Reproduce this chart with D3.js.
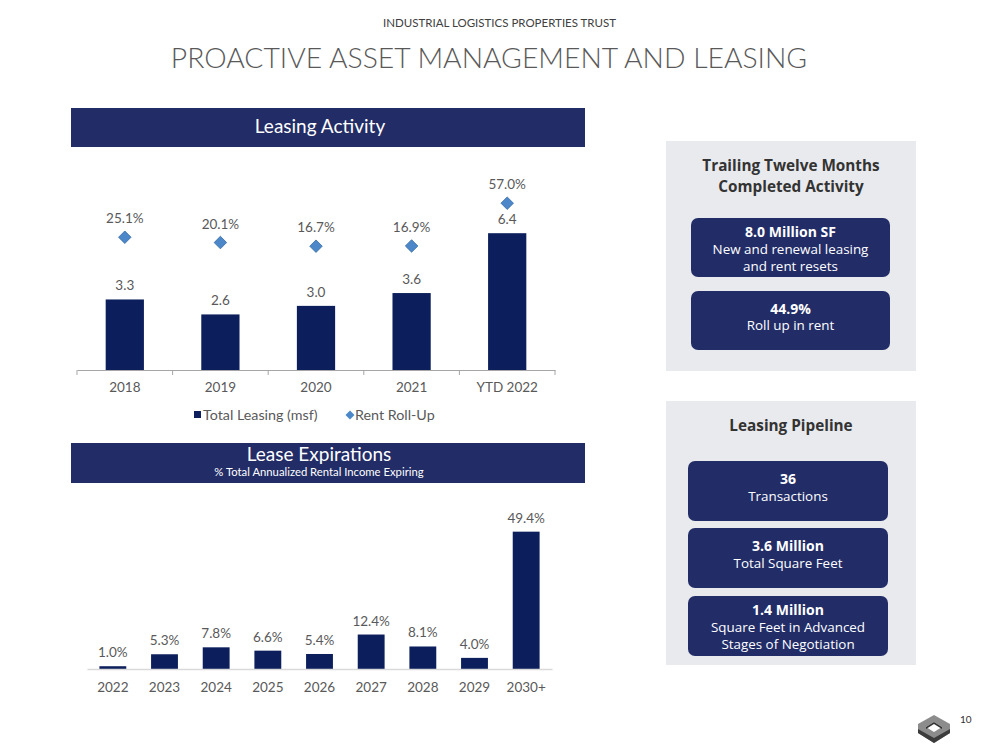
<!DOCTYPE html>
<html><head><meta charset="utf-8">
<script src="https://cdn.jsdelivr.net/npm/d3@7"></script>
<style>body{margin:0;background:#fff}svg{display:block;font-family:Lato,"Open Sans",sans-serif}</style>
</head><body><svg id="c" width="999" height="750"></svg>
<script>
// ---- data ----
const leasingYears = ["2018","2019","2020","2021","YTD 2022"];
const totalLeasing = [3.3,2.6,3.0,3.6,6.4];
const rentRollUp = [25.1,20.1,16.7,16.9,57.0];
const expYears = ["2022","2023","2024","2025","2026","2027","2028","2029","2030+"];
const expPct = [1.0,5.3,7.8,6.6,5.4,12.4,8.1,4.0,49.4];
const ttmTitle = ["Trailing Twelve Months","Completed Activity"];
const ttmBoxes = [
  {head:"8.0 Million SF", lines:["New and renewal leasing","and rent resets"]},
  {head:"44.9%", lines:["Roll up in rent"]}
];
const pipeTitle = ["Leasing Pipeline"];
const pipeBoxes = [
  {head:"36", lines:["Transactions"]},
  {head:"3.6 Million", lines:["Total Square Feet"]},
  {head:"1.4 Million", lines:["Square Feet in Advanced","Stages of Negotiation"]}
];

const NAVY_HDR="#222c66", BAR="#0c1f5c", GRAY="#595959";
const PF="'Open Sans','Noto Sans',sans-serif";
const svg=d3.select("#c");
svg.append("rect").attr("width",999).attr("height",750).attr("fill","#fff");

// Page header
svg.append("text").attr("x",499.5).attr("y",27).attr("text-anchor","middle")
  .attr("font-size",11.5).attr("fill","#404040")
  .text("INDUSTRIAL LOGISTICS PROPERTIES TRUST");
svg.append("text").attr("x",489).attr("y",68).attr("text-anchor","middle")
  .attr("font-size",28.3).attr("font-weight",300).attr("fill",GRAY)
  .text("PROACTIVE ASSET MANAGEMENT AND LEASING");

// ---- Leasing Activity ----
svg.append("rect").attr("x",71).attr("y",108).attr("width",514).attr("height",39).attr("fill",NAVY_HDR);
svg.append("text").attr("x",320).attr("y",133).attr("text-anchor","middle").attr("font-size",19).attr("fill","#fff").text("Leasing Activity");

const x1=d3.scaleBand().domain(leasingYears).range([77,555]).paddingInner(0.6).paddingOuter(0.3);
const y1=d3.scaleLinear().domain([0,8]).range([370,199]);
const y2=d3.scaleLinear().domain([0,60]).range([264,200]);
const g1=svg.append("g");
g1.selectAll("rect.b").data(totalLeasing).join("rect").attr("class","b")
  .attr("x",(d,i)=>x1(leasingYears[i])).attr("width",x1.bandwidth())
  .attr("y",d=>y1(d)).attr("height",d=>y1(0)-y1(d)).attr("fill",BAR);
g1.selectAll("text.bl").data(totalLeasing).join("text").attr("class","bl")
  .attr("x",(d,i)=>x1(leasingYears[i])+x1.bandwidth()/2).attr("y",d=>y1(d)-9)
  .attr("text-anchor","middle").attr("font-size",13.5).attr("fill",GRAY).text(d=>d.toFixed(1));
const dia=d3.symbol().type(d3.symbolSquare).size(78);
g1.selectAll("path.d").data(rentRollUp).join("path").attr("class","d")
  .attr("d",dia).attr("transform",(d,i)=>`translate(${x1(leasingYears[i])+x1.bandwidth()/2},${y2(d)}) rotate(45)`)
  .attr("fill","#4b87c9").attr("stroke","#3a6fa8").attr("stroke-width",0.8);
g1.selectAll("text.dl").data(rentRollUp).join("text").attr("class","dl")
  .attr("x",(d,i)=>x1(leasingYears[i])+x1.bandwidth()/2).attr("y",d=>y2(d)-14)
  .attr("text-anchor","middle").attr("font-size",13.5).attr("fill",GRAY).text(d=>d.toFixed(1)+"%");
// axis
const ax1=svg.append("g").attr("transform","translate(0,370)").call(d3.axisBottom(x1).tickSize(0).tickPadding(12));
ax1.attr("font-family",null).attr("font-size",null);
ax1.select(".domain").attr("stroke","#a6a6a6");
ax1.selectAll("text").attr("font-size",13.5).attr("fill",GRAY);
const bounds=[x1.range()[0]].concat(leasingYears.map(d=>x1(d)+x1.bandwidth()/2+x1.step()/2));
svg.selectAll("line.tk").data(bounds).join("line").attr("class","tk")
  .attr("x1",d=>d).attr("x2",d=>d).attr("y1",370).attr("y2",375).attr("stroke","#a6a6a6");
// legend
svg.append("rect").attr("x",194).attr("y",411).attr("width",7).attr("height",7).attr("fill",BAR);
svg.append("text").attr("x",203).attr("y",420).attr("font-size",14.3).attr("fill",GRAY).text("Total Leasing (msf)");
svg.append("path").attr("d",d3.symbol().type(d3.symbolSquare).size(40)).attr("transform","translate(350,415) rotate(45)").attr("fill","#4b87c9");
svg.append("text").attr("x",355).attr("y",420).attr("font-size",14.3).attr("fill",GRAY).text("Rent Roll-Up");

// ---- Lease Expirations ----
svg.append("rect").attr("x",71).attr("y",443).attr("width",514).attr("height",40).attr("fill",NAVY_HDR);
svg.append("text").attr("x",319).attr("y",461).attr("text-anchor","middle").attr("font-size",19).attr("fill","#fff").text("Lease Expirations");
svg.append("text").attr("x",319).attr("y",476).attr("text-anchor","middle").attr("font-size",11.3).attr("fill","#fff").text("% Total Annualized Rental Income Expiring");

const x2=d3.scaleBand().domain(expYears).range([87,552]).paddingInner(0.48).paddingOuter(0.24);
const y3=d3.scaleLinear().domain([0,50]).range([669,530]);
svg.selectAll("rect.e").data(expPct).join("rect").attr("class","e")
  .attr("x",(d,i)=>x2(expYears[i])).attr("width",x2.bandwidth())
  .attr("y",d=>y3(d)).attr("height",d=>y3(0)-y3(d)).attr("fill",BAR);
svg.selectAll("text.el").data(expPct).join("text").attr("class","el")
  .attr("x",(d,i)=>x2(expYears[i])+x2.bandwidth()/2).attr("y",d=>y3(d)-9)
  .attr("text-anchor","middle").attr("font-size",13.5).attr("fill",GRAY).text(d=>d.toFixed(1)+"%");
const ax2=svg.append("g").attr("transform","translate(0,669)").call(d3.axisBottom(x2).tickSize(0).tickPadding(13));
ax2.attr("font-family",null).attr("font-size",null);
ax2.select(".domain").attr("stroke","#d9d9d9").attr("stroke-width",1.5);
ax2.selectAll("text").attr("font-size",13.5).attr("fill",GRAY);

// ---- Right panels ----
function panel(px,py,pw,ph,title,titleY,boxes,bx,bw,boxY,bh){
  svg.append("rect").attr("x",px).attr("y",py).attr("width",pw).attr("height",ph).attr("fill","#e9eaed");
  title.forEach((t,i)=>svg.append("text").attr("x",px+pw/2).attr("y",titleY+i*20.8).attr("text-anchor","middle")
    .attr("font-family",PF).attr("font-size",15.3).attr("font-weight",700).attr("fill","#333").text(t));
  boxes.forEach((b,i)=>{
    const y=boxY[i];
    svg.append("rect").attr("x",bx).attr("y",y).attr("width",bw).attr("height",bh).attr("rx",7).attr("fill","#222d68");
    const n=b.lines.length;
    const headC = n===1 ? y+bh/2-12 : y+13.5;
    const lineC = n===1 ? y+bh/2+5 : y+31;
    svg.append("text").attr("x",bx+bw/2).attr("y",headC+5).attr("text-anchor","middle")
      .attr("font-family",PF).attr("font-size",14).attr("font-weight",700).attr("fill","#fff").text(b.head);
    b.lines.forEach((l,j)=>svg.append("text").attr("x",bx+bw/2).attr("y",lineC+4.7+j*17).attr("text-anchor","middle")
      .attr("font-family",PF).attr("font-size",13.4).attr("fill","#fff").text(l));
  });
}
panel(666,141,250,230,ttmTitle,171,ttmBoxes,691,199,[218,291],59);
panel(666,401,250,264,pipeTitle,431,pipeBoxes,688,200,[461,528,596],60);

// ---- Logo & page number ----
const logo=svg.append("g");
logo.append("polygon").attr("points","918,724 934,715 950,724 950,733 934,743 918,733").attr("fill","#8c8c8c");
logo.append("polygon").attr("points","918,729 934,738 950,729 950,733 934,743 918,733").attr("fill","#3c3c3c");
logo.append("polygon").attr("points","926,727 934,722 942,727 934,732").attr("fill","#fff");
logo.append("polygon").attr("points","926,727 934,722 942,727 942,729 934,724 926,729").attr("fill","#333");
svg.append("text").attr("x",960).attr("y",723).attr("font-size",10).attr("fill","#333").text("10");
</script></body></html>
